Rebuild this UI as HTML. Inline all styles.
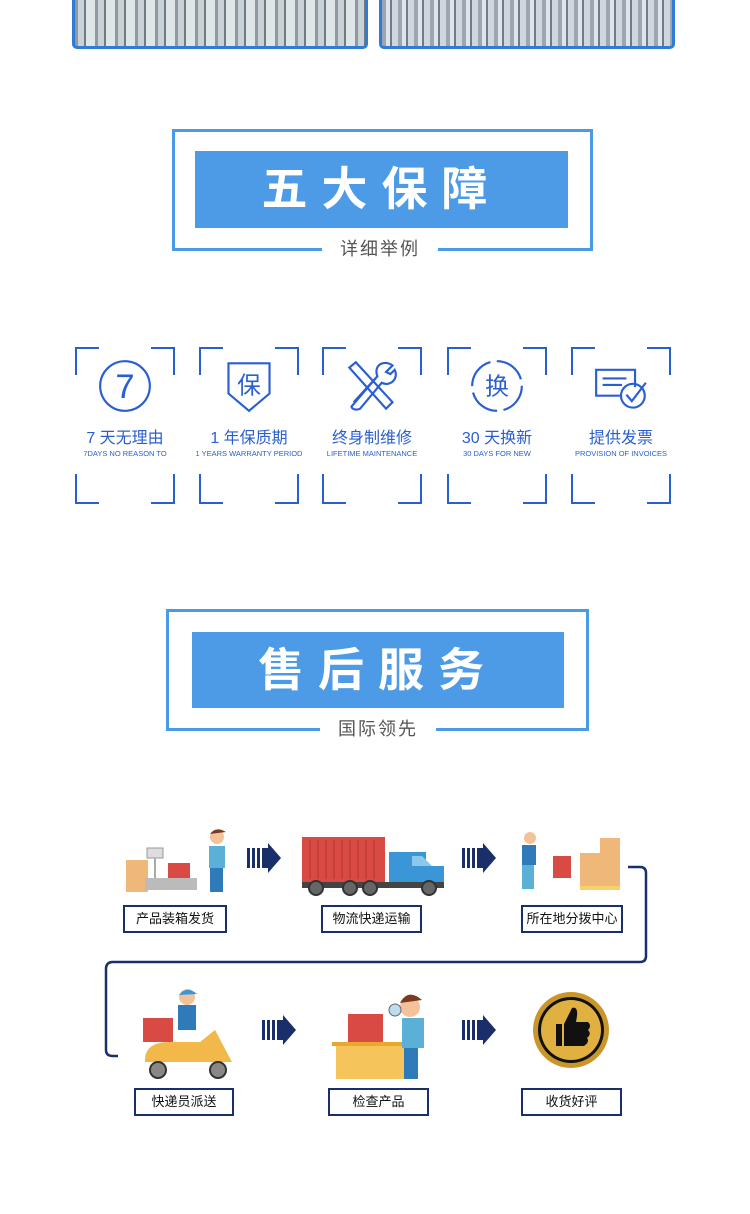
<!DOCTYPE html>
<html><head><meta charset="utf-8"><style>
body{margin:0;width:750px;height:1214px;background:#fff;position:relative;overflow:hidden;font-family:"Liberation Sans","Noto Sans CJK SC",sans-serif}
.a{position:absolute}
.photo{position:absolute;top:-4px;height:47px;border:3px solid #2f7bd8;border-radius:0 0 5px 5px;background:repeating-linear-gradient(90deg,#8e9aa0 0 3px,#c9d2d6 3px 9px,#6f7c84 9px 11px,#dfe6e8 11px 20px),#b8c4c8;}
.frame{position:absolute;border:3px solid #4a9be6}
.inner{position:absolute;background:#4d9be6;color:#fff;font-weight:bold;font-size:46px;text-align:center;letter-spacing:14px}
.sub{position:absolute;background:#fff;color:#555;font-size:18px;text-align:center;letter-spacing:2px}
.card{position:absolute;top:347px;width:100px;height:157px}
.c{position:absolute;width:22px;height:26px;border-color:#2a5fcf;border-style:solid;border-width:0}
.tl{left:0;top:0;border-left-width:2px;border-top-width:2px}
.tr{right:0;top:0;border-right-width:2px;border-top-width:2px}
.bl{left:0;bottom:0;border-left-width:2px;border-bottom-width:2px;height:28px}
.br{right:0;bottom:0;border-right-width:2px;border-bottom-width:2px;height:28px}
.cn{position:absolute;top:77px;left:-10px;width:120px;text-align:center;color:#2a5fcf;font-size:16px}
.en{position:absolute;top:102px;left:-15px;width:130px;text-align:center;color:#2a5fcf;font-size:7.5px;white-space:nowrap}
.ic{position:absolute;left:23px;top:12px;width:54px;height:54px}
.lab{position:absolute;border:2px solid #1a2f6a;height:24px;line-height:24px;font-size:13px;text-align:center;color:#111}
</style></head><body>
<div class="photo" style="left:72px;width:290px"></div>
<div class="photo" style="left:379px;width:290px;background:repeating-linear-gradient(90deg,#9aa6b4 0 4px,#e0e4e6 4px 8px,#6d7c8c 8px 10px,#cfd6dc 10px 16px)"></div>

<div class="frame" style="left:172px;top:129px;width:415px;height:116px"></div>
<div class="inner" style="left:195px;top:151px;width:373px;height:77px;line-height:77px">五大保障</div>
<div class="sub" style="left:322px;top:236px;width:116px;height:26px;line-height:26px">详细举例</div>

<div class="card" style="left:75px"><div class="c tl"></div><div class="c tr"></div><div class="c bl"></div><div class="c br"></div>
<svg class="ic" viewBox="0 0 50 50"><circle cx="25" cy="25" r="23" fill="none" stroke="#2a5fcf" stroke-width="2"/><text x="25" y="36" font-size="32" text-anchor="middle" fill="#2a5fcf" font-family="Liberation Sans">7</text></svg>
<div class="cn">7 天无理由</div><div class="en">7DAYS NO REASON TO</div></div>
<div class="card" style="left:199px"><div class="c tl"></div><div class="c tr"></div><div class="c bl"></div><div class="c br"></div>
<svg class="ic" viewBox="0 0 50 50"><path d="M6 4 H44 V32 L25 48 L6 32Z" fill="none" stroke="#2a5fcf" stroke-width="2"/><text x="25" y="32" font-size="22" text-anchor="middle" fill="#2a5fcf">保</text></svg>
<div class="cn">1 年保质期</div><div class="en">1 YEARS WARRANTY PERIOD</div></div>
<div class="card" style="left:322px"><div class="c tl"></div><div class="c tr"></div><div class="c bl"></div><div class="c br"></div>
<svg class="ic" viewBox="0 0 50 50" fill="none" stroke="#2a5fcf" stroke-width="2"><path d="M4 8 L10 3 L44 40 L38 46Z"/><path d="M8 40 L30 16 M30 16 C26 6 36 0 44 6 L38 12 L42 14 L46 10 C50 18 42 26 34 22 L14 46 C10 48 6 46 6 44Z"/></svg>
<div class="cn">终身制维修</div><div class="en">LIFETIME MAINTENANCE</div></div>
<div class="card" style="left:447px"><div class="c tl"></div><div class="c tr"></div><div class="c bl"></div><div class="c br"></div>
<svg class="ic" viewBox="0 0 50 50"><circle cx="25" cy="25" r="23" fill="none" stroke="#2a5fcf" stroke-width="2" stroke-dasharray="30 6"/><text x="25" y="33" font-size="22" text-anchor="middle" fill="#2a5fcf">换</text></svg>
<div class="cn">30 天换新</div><div class="en">30 DAYS FOR NEW</div></div>
<div class="card" style="left:571px"><div class="c tl"></div><div class="c tr"></div><div class="c bl"></div><div class="c br"></div>
<svg class="ic" viewBox="0 0 50 50" fill="none" stroke="#2a5fcf" stroke-width="2"><path d="M38 26 V10 H2 V34 H24"/><path d="M8 18 H30 M8 24 H26"/><circle cx="36" cy="34" r="11"/><path d="M30 33 L35 39 L48 22"/></svg>
<div class="cn">提供发票</div><div class="en">PROVISION OF INVOICES</div></div>

<div class="frame" style="left:166px;top:609px;width:417px;height:116px"></div>
<div class="inner" style="left:192px;top:632px;width:372px;height:76px;line-height:76px">售后服务</div>
<div class="sub" style="left:320px;top:716px;width:116px;height:26px;line-height:26px">国际领先</div>

<svg class="a" style="left:0;top:820px" width="750" height="320" viewBox="0 820 750 320">
<path d="M628 867 H640 Q646 867 646 873 V956 Q646 962 640 962 H113 Q106 962 106 969 V1050 Q106 1056 113 1056 H118" fill="none" stroke="#1a2f6a" stroke-width="2.5"/>
<g fill="#1a2f6a" id="arr"><rect x="247" y="848" width="3" height="20"/><rect x="252" y="848" width="3" height="20"/><rect x="257" y="848" width="3" height="20"/><path d="M262 848 H268 V843 L281 858 L268 873 V868 H262Z"/></g>
<use href="#arr" x="215"/><use href="#arr" x="15" y="172"/><use href="#arr" x="215" y="172"/>
<rect x="126" y="860" width="22" height="32" fill="#f0b878"/><rect x="147" y="848" width="16" height="10" fill="#ddd" stroke="#999"/><rect x="154" y="858" width="2" height="20" fill="#aaa"/><rect x="145" y="878" width="52" height="12" fill="#bbb"/><rect x="168" y="863" width="22" height="15" fill="#d94a44"/>
<circle cx="217" cy="837" r="7" fill="#f2c39a"/><path d="M210 834 Q216 826 226 832Z" fill="#7a3b20"/><rect x="209" y="846" width="16" height="22" fill="#5ab0d6"/><rect x="210" y="868" width="13" height="24" fill="#2f7ab8"/>
<rect x="302" y="837" width="83" height="45" fill="#d94a44"/>
<g stroke="#b03530" stroke-width="1"><path d="M310 840V879M318 840V879M326 840V879M334 840V879M342 840V879M350 840V879M358 840V879M366 840V879M374 840V879"/></g>
<rect x="389" y="852" width="37" height="32" fill="#3a96d6"/><rect x="426" y="866" width="18" height="18" fill="#3a96d6"/><path d="M412 856 H422 L432 866 H412Z" fill="#8cc8ee"/><rect x="302" y="882" width="142" height="6" fill="#444"/>
<g fill="#666" stroke="#333" stroke-width="2"><circle cx="316" cy="888" r="7"/><circle cx="350" cy="888" r="7"/><circle cx="370" cy="888" r="7"/><circle cx="429" cy="888" r="7"/></g>
<circle cx="530" cy="838" r="6" fill="#f2c39a"/><rect x="522" y="845" width="14" height="20" fill="#2f7ab8"/><rect x="522" y="865" width="12" height="24" fill="#5ab0d6"/>
<rect x="553" y="856" width="18" height="22" fill="#d94a44"/><rect x="580" y="853" width="40" height="33" fill="#f0b878"/><rect x="600" y="838" width="20" height="15" fill="#f0b878"/><rect x="580" y="886" width="40" height="4" fill="#f5d36a"/>
<rect x="143" y="1018" width="30" height="24" fill="#d94a44"/><circle cx="187" cy="997" r="8" fill="#f2c39a"/><path d="M179 995 Q187 985 197 994Z" fill="#3a96d6"/><rect x="178" y="1005" width="18" height="25" fill="#2f7ab8"/>
<path d="M145 1060 Q145 1042 170 1042 H200 L215 1030 L232 1062 H145Z" fill="#f2b84a"/><circle cx="158" cy="1070" r="8" fill="#888" stroke="#333" stroke-width="2"/><circle cx="218" cy="1070" r="8" fill="#888" stroke="#333" stroke-width="2"/>
<rect x="348" y="1014" width="35" height="30" fill="#d94a44"/><rect x="332" y="1042" width="80" height="4" fill="#e8a830"/><rect x="336" y="1046" width="70" height="33" fill="#f5c45a"/>
<circle cx="410" cy="1007" r="10" fill="#f2c39a"/><path d="M400 1003 Q408 988 422 1000Z" fill="#7a3b20"/><circle cx="395" cy="1010" r="6" fill="#bde" stroke="#666"/><rect x="402" y="1018" width="22" height="30" fill="#5ab0d6"/><rect x="404" y="1048" width="14" height="31" fill="#2f7ab8"/>
<circle cx="571" cy="1030" r="38" fill="#c9962a"/><circle cx="571" cy="1030" r="33" fill="#111"/><circle cx="571" cy="1030" r="30" fill="#e0b040"/><path d="M556 1024 H562 V1046 H556Z M564 1024 L572 1008 Q578 1006 577 1016 L576 1022 H588 Q592 1026 588 1030 Q592 1034 587 1038 Q590 1042 584 1046 H564Z" fill="#111"/>
</svg>
<div class="lab" style="left:123px;top:905px;width:100px">产品装箱发货</div>
<div class="lab" style="left:321px;top:905px;width:97px">物流快递运输</div>
<div class="lab" style="left:521px;top:905px;width:98px">所在地分拨中心</div>
<div class="lab" style="left:134px;top:1088px;width:96px">快递员派送</div>
<div class="lab" style="left:328px;top:1088px;width:97px">检查产品</div>
<div class="lab" style="left:521px;top:1088px;width:97px">收货好评</div>
</body></html>
